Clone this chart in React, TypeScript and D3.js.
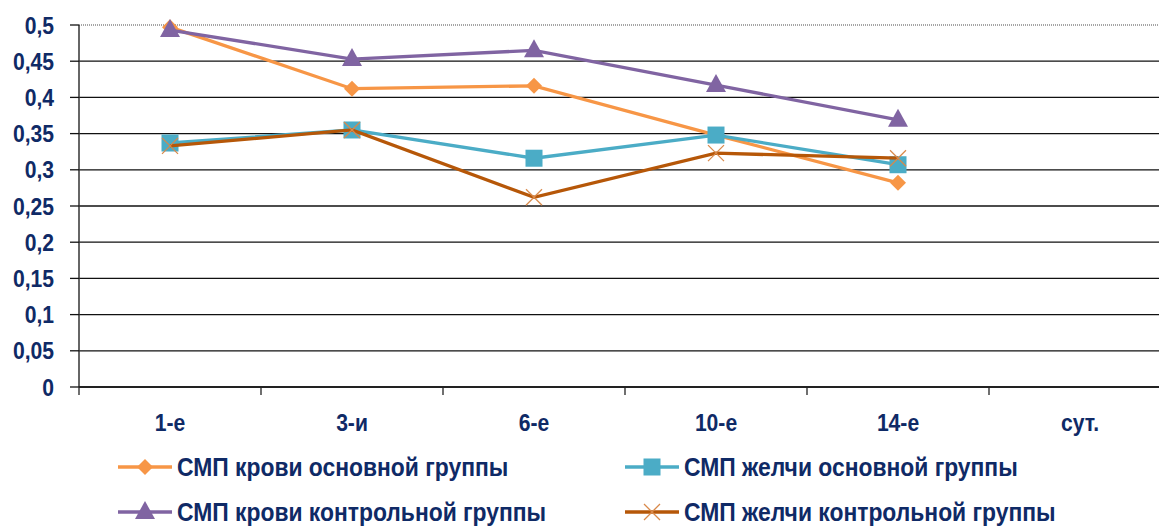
import React from "react";
import * as d3 from "d3";

// days after operation
const days = ["1-е", "3-и", "6-е", "10-е", "14-е", "сут."];
const yTicks = [0, 0.05, 0.1, 0.15, 0.2, 0.25, 0.3, 0.35, 0.4, 0.45, 0.5];

const bloodMain = [0.497, 0.412, 0.416, 0.348, 0.282];
const bileMain = [0.337, 0.355, 0.316, 0.348, 0.307];
const bloodControl = [0.493, 0.453, 0.465, 0.417, 0.369];
const bileControl = [0.333, 0.355, 0.262, 0.323, 0.316];

const seriesNames = [
  "СМП крови основной группы",
  "СМП желчи основной группы",
  "СМП крови контрольной группы",
  "СМП желчи контрольной группы",
];

const width = 1159;
const height = 526;
const marginLeft = 79;
const plotRight = 1171; // plot area runs past the right edge of the picture
const yTop = 25;
const yBottom = 387;

const textColor = "#0f2a66";
const font = "'Liberation Sans', Arial, sans-serif";
const squeeze = 0.88; // the original uses a narrow bold face

type Shape = "diamond" | "square" | "triangle" | "cross";

const NarrowText: React.FC<{
  x: number;
  y: number;
  size: number;
  anchor?: "start" | "middle" | "end";
  children: React.ReactNode;
}> = ({ x, y, size, anchor = "start", children }) => (
  <text
    transform={`translate(${x},${y}) scale(${squeeze},1)`}
    dy="0.36em"
    textAnchor={anchor}
    fontSize={size}
    fontWeight="bold"
    fill={textColor}
  >
    {children}
  </text>
);

const Marker: React.FC<{ shape: Shape; x: number; y: number; color: string }> = ({ shape, x, y, color }) => {
  if (shape === "diamond") {
    const s = 8;
    return <path d={`M${x},${y - s}L${x + s},${y}L${x},${y + s}L${x - s},${y}Z`} fill={color} />;
  }
  if (shape === "square") {
    const s = 8.5;
    return <rect x={x - s} y={y - s} width={s * 2} height={s * 2} fill={color} />;
  }
  if (shape === "triangle") {
    return <path d={`M${x},${y - 11}L${x + 10},${y + 7}L${x - 10},${y + 7}Z`} fill={color} />;
  }
  const s = 8;
  return (
    <g stroke={color} strokeWidth={1.3}>
      <line x1={x - s} y1={y - s} x2={x + s} y2={y + s} />
      <line x1={x - s} y1={y + s} x2={x + s} y2={y - s} />
    </g>
  );
};

const App: React.FC = () => {
  const x = d3.scaleBand<string>().domain(days).range([marginLeft, plotRight]);
  const y = d3.scaleLinear().domain([0, 0.5]).range([yBottom, yTop]);
  const fmt = (v: number) => String(v).replace(".", ",");

  const series = [
    { name: seriesNames[0], values: bloodMain, color: "#f79646", mark: "#f79646", shape: "diamond" as Shape },
    { name: seriesNames[1], values: bileMain, color: "#4bacc6", mark: "#4bacc6", shape: "square" as Shape },
    { name: seriesNames[2], values: bloodControl, color: "#8064a2", mark: "#8064a2", shape: "triangle" as Shape },
    { name: seriesNames[3], values: bileControl, color: "#b65708", mark: "#d9894a", shape: "cross" as Shape },
  ];
  // draw order: blood main, blood control, bile main, bile control
  const drawOrder = [0, 2, 1, 3];

  const cx = (i: number) => (x(days[i]) ?? 0) + x.bandwidth() / 2;
  const line = d3
    .line<number>()
    .x((_, i) => cx(i))
    .y((d) => y(d));

  const legendPos = [
    { lx: 118, ly: 467 },
    { lx: 625, ly: 467 },
    { lx: 118, ly: 512 },
    { lx: 625, ly: 512 },
  ];

  return (
    <svg width={width} height={height} style={{ position: "absolute", left: 0, top: 0 }} fontFamily={font}>
      <rect width={width} height={height} fill="#fff" />
      {/* top border of plot area */}
      <line x1={marginLeft} x2={plotRight} y1={yTop} y2={yTop} stroke="#888" strokeWidth={1.5} strokeDasharray="1 1" />
      {/* gridlines */}
      {yTicks.slice(1, -1).map((t) => (
        <line key={t} x1={marginLeft} x2={plotRight} y1={y(t)} y2={y(t)} stroke="#111" strokeWidth={1.3} />
      ))}
      {/* y axis */}
      <line x1={marginLeft} x2={marginLeft} y1={yTop} y2={yBottom} stroke="#333" strokeWidth={1.5} />
      {yTicks.map((t) => (
        <g key={t}>
          <line x1={marginLeft - 9} x2={marginLeft} y1={y(t)} y2={y(t)} stroke="#111" strokeWidth={1.3} />
          <NarrowText x={54} y={y(t)} size={24} anchor="end">
            {fmt(t)}
          </NarrowText>
        </g>
      ))}
      {/* x axis */}
      <line x1={marginLeft} x2={plotRight} y1={yBottom} y2={yBottom} stroke="#222" strokeWidth={1.8} />
      {days.map((d, i) => (
        <g key={d}>
          <line x1={x(d) ?? 0} x2={x(d) ?? 0} y1={yBottom} y2={yBottom + 8} stroke="#222" strokeWidth={1.3} />
          <NarrowText x={cx(i)} y={422} size={24} anchor="middle">
            {d}
          </NarrowText>
        </g>
      ))}
      {/* series */}
      {drawOrder.map((si) => {
        const s = series[si];
        return (
          <g key={s.name}>
            <path d={line(s.values) ?? ""} fill="none" stroke={s.color} strokeWidth={3.3} />
            {s.values.map((v, i) => (
              <Marker key={i} shape={s.shape} x={cx(i)} y={y(v)} color={s.mark} />
            ))}
          </g>
        );
      })}
      {/* legend */}
      {series.map((s, i) => {
        const { lx, ly } = legendPos[i];
        return (
          <g key={s.name}>
            <line x1={lx} x2={lx + 54} y1={ly} y2={ly} stroke={s.color} strokeWidth={3.3} />
            <Marker shape={s.shape} x={lx + 27} y={ly} color={s.mark} />
            <NarrowText x={lx + 59} y={ly} size={26}>
              {s.name}
            </NarrowText>
          </g>
        );
      })}
    </svg>
  );
};

export default App;
